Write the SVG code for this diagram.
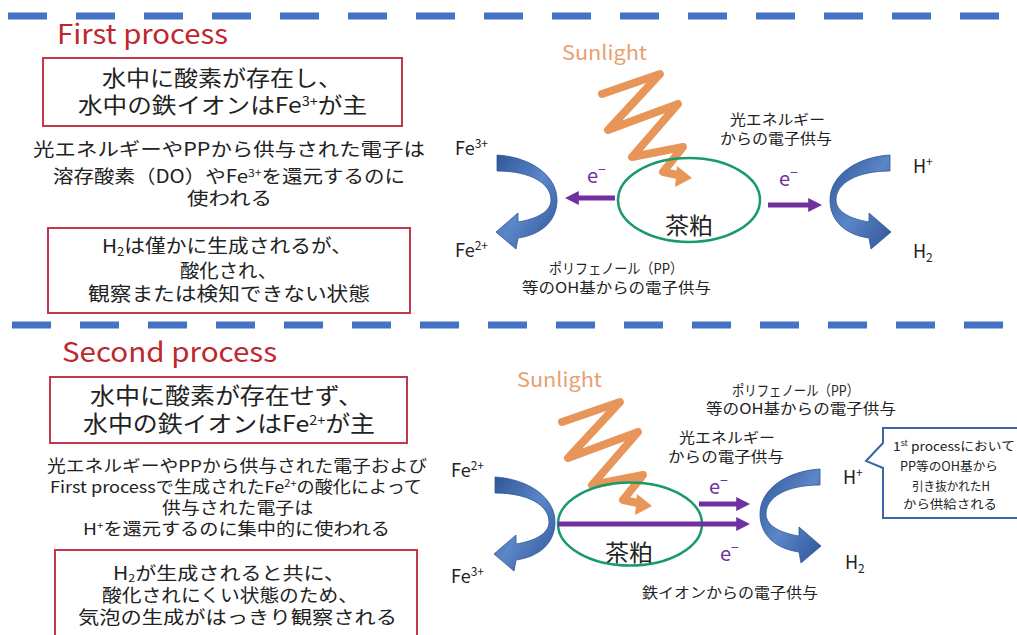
<svg xmlns="http://www.w3.org/2000/svg" width="1017" height="635" viewBox="0 0 1017 635">
<defs>
<style>
.t{font-family:"Noto Sans CJK JP","Noto Sans",sans-serif;fill:#222}
.ttl{font-family:"Noto Sans CJK JP","Noto Sans",sans-serif;fill:#c0262d;font-size:27px}
.sun{font-family:"Noto Sans CJK JP","Noto Sans",sans-serif;fill:#e8a070;font-size:20px}
.el{font-family:"Noto Sans CJK JP","Noto Sans",sans-serif;fill:#7030a0;font-size:20px}
.box{fill:none;stroke:#c0394a;stroke-width:2}
.dash{stroke:#4472c4;stroke-width:7;stroke-dasharray:39 29}
.ell{fill:none;stroke:#1a9a6c;stroke-width:2.5}
.zig{fill:none;stroke:#e8955a;stroke-width:8;stroke-linejoin:round;stroke-linecap:round}
.pa{stroke:#7030a0;stroke-width:5;fill:none}
.arc{fill:url(#bg);stroke:#2f5597;stroke-width:0.8}
</style>
<linearGradient id="bg" x1="0" y1="0" x2="1" y2="1">
<stop offset="0" stop-color="#2f5597"/>
<stop offset="0.5" stop-color="#5b86c8"/>
<stop offset="1" stop-color="#2f5597"/>
</linearGradient>
<marker id="ap" viewBox="0 0 10 10" refX="2" refY="5" markerWidth="14" markerHeight="14" markerUnits="userSpaceOnUse" orient="auto"><path d="M0,0 L10,5 L0,10 z" fill="#7030a0"/></marker>
</defs>
<rect width="1017" height="635" fill="#ffffff"/>

<g id="dividers">
<line class="dash" x1="8" y1="16" x2="1017" y2="16"/>
<line class="dash" x1="12" y1="325" x2="1017" y2="325"/>
</g>

<!-- First process left panel -->
<g id="first-title"><text class="ttl" x="57" y="44" textLength="171" lengthAdjust="spacingAndGlyphs">First process</text></g>
<g id="first-box1">
<rect class="box" x="43" y="58" width="359" height="68"/>
<text class="t" font-size="22" x="102" y="86" textLength="240" lengthAdjust="spacingAndGlyphs">水中に酸素が存在し、</text>
<text class="t" font-size="22" x="78" y="113" textLength="289" lengthAdjust="spacingAndGlyphs">水中の鉄イオンはFe<tspan font-size="13" baseline-shift="7">3+</tspan>が主</text>
</g>
<g id="first-text">
<text class="t" font-size="18.5" x="33" y="156" textLength="392" lengthAdjust="spacingAndGlyphs">光エネルギーやPPから供与された電子は</text>
<text class="t" font-size="18.5" x="53" y="183" textLength="352" lengthAdjust="spacingAndGlyphs">溶存酸素（DO）やFe<tspan font-size="11" baseline-shift="6">3+</tspan>を還元するのに</text>
<text class="t" font-size="18.5" x="187" y="205" textLength="85" lengthAdjust="spacingAndGlyphs">使われる</text>
</g>
<g id="first-box2">
<rect class="box" x="48" y="228" width="362" height="85"/>
<text class="t" font-size="19" x="102" y="253" textLength="250" lengthAdjust="spacingAndGlyphs">H<tspan font-size="12" baseline-shift="-3">2</tspan>は僅かに生成されるが、</text>
<text class="t" font-size="19" x="180" y="278" textLength="97" lengthAdjust="spacingAndGlyphs">酸化され、</text>
<text class="t" font-size="19" x="88" y="301" textLength="282" lengthAdjust="spacingAndGlyphs">観察または検知できない状態</text>
</g>

<!-- Second process left panel -->
<g id="second-title"><text class="ttl" x="62" y="362" textLength="215" lengthAdjust="spacingAndGlyphs">Second process</text></g>
<g id="second-box1">
<rect class="box" x="50" y="377" width="357" height="66"/>
<text class="t" font-size="22.5" x="90" y="404" textLength="273" lengthAdjust="spacingAndGlyphs">水中に酸素が存在せず、</text>
<text class="t" font-size="22.5" x="83" y="432" textLength="292" lengthAdjust="spacingAndGlyphs">水中の鉄イオンはFe<tspan font-size="13" baseline-shift="7">2+</tspan>が主</text>
</g>
<g id="second-text">
<text class="t" font-size="16.5" x="47" y="472" textLength="380" lengthAdjust="spacingAndGlyphs">光エネルギーやPPから供与された電子および</text>
<text class="t" font-size="16.5" x="50" y="493" textLength="372" lengthAdjust="spacingAndGlyphs">First processで生成されたFe<tspan font-size="10" baseline-shift="6">2+</tspan>の酸化によって</text>
<text class="t" font-size="16.5" x="162" y="514" textLength="151" lengthAdjust="spacingAndGlyphs">供与された電子は</text>
<text class="t" font-size="16.5" x="83" y="535" textLength="307" lengthAdjust="spacingAndGlyphs">H<tspan font-size="10" baseline-shift="6">+</tspan>を還元するのに集中的に使われる</text>
</g>
<g id="second-box2">
<rect class="box" x="55" y="550" width="362" height="95"/>
<text class="t" font-size="18.5" x="113" y="580" textLength="232" lengthAdjust="spacingAndGlyphs">H<tspan font-size="11" baseline-shift="-2">2</tspan>が生成されると共に、</text>
<text class="t" font-size="18.5" x="102" y="602" textLength="256" lengthAdjust="spacingAndGlyphs">酸化されにくい状態のため、</text>
<text class="t" font-size="18.5" x="78" y="624" textLength="319" lengthAdjust="spacingAndGlyphs">気泡の生成がはっきり観察される</text>
</g>

<!-- Diagram 1 -->
<g id="d1-sunlight">
<text class="sun" x="562" y="60" textLength="85" lengthAdjust="spacingAndGlyphs">Sunlight</text>
<polyline class="zig" points="602,94 660,74 608,130 678,104 632,157 683,147 663,172 678,175"/>
<polygon points="692,178 677,166 675,187" fill="#e8955a"/>
</g>
<g id="d1-teakasu">
<ellipse class="ell" cx="689" cy="200" rx="71" ry="42"/>
<text class="t" font-size="23" x="665" y="234" textLength="48" lengthAdjust="spacingAndGlyphs">茶粕</text>
</g>
<g id="d1-fe">
<path class="arc" d="M497,155 C530,157 557,175 557,200 C557,222 540,235 518,238 L516,249 L496,232 L518,213 L518,222 C536,219 551,212 551,200 C551,183 530,171 497,171 Z"/>
<text class="t" font-size="18" x="455" y="155">Fe<tspan font-size="12" baseline-shift="7">3+</tspan></text>
<text class="t" font-size="18" x="455" y="257">Fe<tspan font-size="12" baseline-shift="7">2+</tspan></text>
</g>
<g id="d1-h">
<path class="arc" d="M890,155 C857,157 830,175 830,200 C830,222 847,235 869,238 L871,249 L891,232 L869,213 L869,222 C851,219 836,212 836,200 C836,183 857,171 890,171 Z"/>
<text class="t" font-size="18" x="913" y="173">H<tspan font-size="12" baseline-shift="7">+</tspan></text>
<text class="t" font-size="18" x="913" y="258">H<tspan font-size="12" baseline-shift="-4">2</tspan></text>
</g>
<g id="d1-labels">
<text class="t" font-size="14.5" x="730" y="125" textLength="95" lengthAdjust="spacingAndGlyphs">光エネルギー</text>
<text class="t" font-size="14.5" x="720" y="144" textLength="112" lengthAdjust="spacingAndGlyphs">からの電子供与</text>
<text class="t" font-size="14.5" x="549" y="274" textLength="134" lengthAdjust="spacingAndGlyphs">ポリフェノール（PP）</text>
<text class="t" font-size="14.5" x="522" y="293" textLength="189" lengthAdjust="spacingAndGlyphs">等のOH基からの電子供与</text>
</g>

<!-- Diagram 2 -->
<g id="d2-sunlight">
<text class="sun" x="517" y="387" textLength="85" lengthAdjust="spacingAndGlyphs">Sunlight</text>
<polyline class="zig" points="562,422 620,402 568,458 638,432 592,485 643,475 623,500 638,503"/>
<polygon points="652,506 637,494 635,515" fill="#e8955a"/>
</g>
<g id="d2-teakasu">
<ellipse class="ell" cx="630" cy="524" rx="72" ry="41.5"/>
<text class="t" font-size="23" x="605" y="561" textLength="48" lengthAdjust="spacingAndGlyphs">茶粕</text>
</g>
<g id="d2-fe">
<path class="arc" transform="translate(-2,322)" d="M497,155 C530,157 557,175 557,200 C557,222 540,235 518,238 L516,249 L496,232 L518,213 L518,222 C536,219 551,212 551,200 C551,183 530,171 497,171 Z"/>
<text class="t" font-size="18" x="451" y="477">Fe<tspan font-size="12" baseline-shift="7">2+</tspan></text>
<text class="t" font-size="18" x="451" y="583">Fe<tspan font-size="12" baseline-shift="7">3+</tspan></text>
</g>
<g id="d2-h">
<path class="arc" transform="translate(-70,314)" d="M890,155 C857,157 830,175 830,200 C830,222 847,235 869,238 L871,249 L891,232 L869,213 L869,222 C851,219 836,212 836,200 C836,183 857,171 890,171 Z"/>
<text class="t" font-size="18" x="843" y="484">H<tspan font-size="12" baseline-shift="7">+</tspan></text>
<text class="t" font-size="18" x="845" y="569">H<tspan font-size="12" baseline-shift="-4">2</tspan></text>
</g>
<g id="d2-labels">
<text class="t" font-size="14.5" x="732" y="396" textLength="127" lengthAdjust="spacingAndGlyphs">ポリフェノール（PP）</text>
<text class="t" font-size="14.5" x="706" y="414" textLength="190" lengthAdjust="spacingAndGlyphs">等のOH基からの電子供与</text>
<text class="t" font-size="14.5" x="679" y="443" textLength="96" lengthAdjust="spacingAndGlyphs">光エネルギー</text>
<text class="t" font-size="14.5" x="668" y="462" textLength="116" lengthAdjust="spacingAndGlyphs">からの電子供与</text>
<text class="t" font-size="14.5" x="642" y="598" textLength="176" lengthAdjust="spacingAndGlyphs">鉄イオンからの電子供与</text>
</g>
<g id="d2-callout">
<path d="M883,428 L1030,428 L1030,518 L883,518 L883,468 L866,461 L883,443 Z" fill="#ffffff" stroke="#3d64a8" stroke-width="2"/>
<text class="t" font-size="12.5" x="893" y="451" textLength="122" lengthAdjust="spacingAndGlyphs">1<tspan font-size="8" baseline-shift="5">st</tspan> processにおいて</text>
<text class="t" font-size="12.5" x="900" y="471" textLength="98" lengthAdjust="spacingAndGlyphs">PP等のOH基から</text>
<text class="t" font-size="12.5" x="912" y="491" textLength="78" lengthAdjust="spacingAndGlyphs">引き抜かれたH</text>
<text class="t" font-size="12.5" x="903" y="509" textLength="94" lengthAdjust="spacingAndGlyphs">から供給される</text>
</g>

<g id="connectors">
<line class="pa" x1="615" y1="198" x2="576" y2="198" marker-end="url(#ap)"/>
<text class="el" x="587" y="183">e<tspan font-size="14" baseline-shift="8">−</tspan></text>
<line class="pa" x1="768" y1="205" x2="811" y2="205" marker-end="url(#ap)"/>
<text class="el" x="779" y="186">e<tspan font-size="14" baseline-shift="8">−</tspan></text>
<line class="pa" x1="699" y1="504" x2="739" y2="504" marker-end="url(#ap)"/>
<text class="el" x="709" y="494">e<tspan font-size="14" baseline-shift="8">−</tspan></text>
<line class="pa" x1="558" y1="524" x2="739" y2="524" marker-end="url(#ap)"/>
<text class="el" x="720" y="561">e<tspan font-size="14" baseline-shift="8">−</tspan></text>
</g>
</svg>
